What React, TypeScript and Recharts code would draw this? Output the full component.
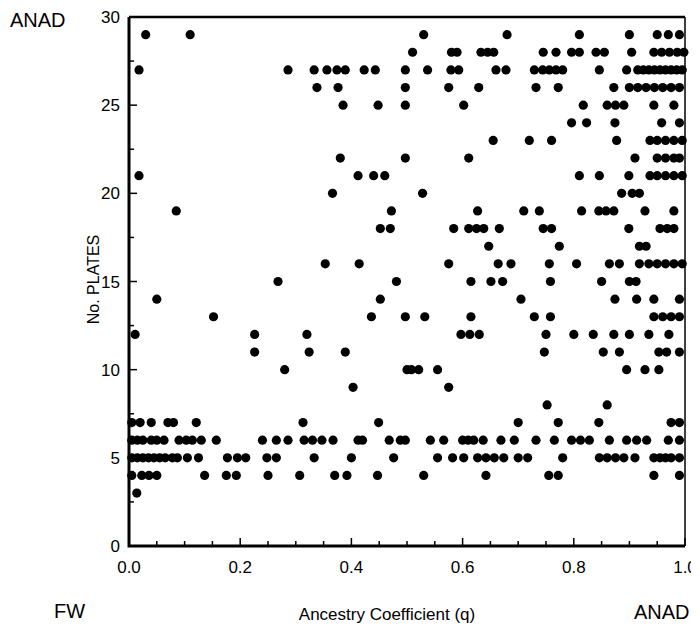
import React from 'react';
import { ScatterChart, Scatter, XAxis, YAxis } from 'recharts';

// ancestry coefficient (q) of each fish, grouped by lateral plate count
const plates29 = [0.03, 0.11, 0.53, 0.68, 0.81, 0.9, 0.95, 0.97, 0.99];
const plates28 = [0.51, 0.58, 0.59, 0.633, 0.645, 0.656, 0.745, 0.768, 0.796, 0.81, 0.84, 0.855, 0.904, 0.944, 0.958, 0.972, 0.986, 0.998];
const plates27 = [0.018, 0.286, 0.333, 0.356, 0.374, 0.389, 0.423, 0.443, 0.497, 0.537, 0.579, 0.593, 0.66, 0.678, 0.729, 0.744, 0.756, 0.768, 0.78, 0.846, 0.895, 0.915, 0.925, 0.935, 0.945, 0.955, 0.965, 0.975, 0.985, 0.995];
const plates26 = [0.338, 0.376, 0.497, 0.575, 0.629, 0.732, 0.772, 0.872, 0.9, 0.915, 0.93, 0.945, 0.96, 0.975, 0.99];
const plates25 = [0.385, 0.448, 0.497, 0.602, 0.817, 0.86, 0.875, 0.89, 0.944, 0.98];
const plates24 = [0.796, 0.823, 0.874, 0.958, 0.99];
const plates23 = [0.655, 0.72, 0.76, 0.877, 0.937, 0.95, 0.965, 0.98, 0.995];
const plates22 = [0.38, 0.497, 0.611, 0.91, 0.95, 0.965, 0.98, 0.99];
const plates21 = [0.018, 0.412, 0.44, 0.46, 0.81, 0.846, 0.899, 0.937, 0.95, 0.965, 0.98, 0.995];
const plates20 = [0.366, 0.528, 0.886, 0.905, 0.918];
const plates19 = [0.085, 0.472, 0.627, 0.71, 0.738, 0.814, 0.845, 0.858, 0.872, 0.928, 0.98];
const plates18 = [0.452, 0.47, 0.584, 0.611, 0.625, 0.638, 0.666, 0.745, 0.76, 0.899, 0.955, 0.968, 0.98];
const plates17 = [0.647, 0.774, 0.918, 0.93];
const plates16 = [0.353, 0.414, 0.575, 0.664, 0.687, 0.756, 0.805, 0.864, 0.882, 0.918, 0.935, 0.95, 0.965, 0.98, 0.995];
const plates15 = [0.268, 0.481, 0.615, 0.651, 0.672, 0.758, 0.85, 0.9, 0.912];
const plates14 = [0.05, 0.452, 0.705, 0.874, 0.913, 0.944, 0.99];
const plates13 = [0.152, 0.436, 0.497, 0.532, 0.615, 0.729, 0.758, 0.944, 0.96, 0.975, 0.99];
const plates12 = [0.011, 0.226, 0.32, 0.597, 0.613, 0.63, 0.75, 0.8, 0.835, 0.872, 0.9, 0.935, 0.971];
const plates11 = [0.226, 0.324, 0.389, 0.747, 0.853, 0.882, 0.953, 0.967, 0.99];
const plates10 = [0.28, 0.5, 0.508, 0.521, 0.555, 0.895, 0.928, 0.953];
const plates9 = [0.403, 0.575];
const plates8 = [0.752, 0.86];
const plates7 = [0.005, 0.02, 0.04, 0.07, 0.08, 0.121, 0.313, 0.449, 0.7, 0.772, 0.845, 0.975, 0.99];
const plates6 = [0.005, 0.015, 0.025, 0.04, 0.05, 0.063, 0.09, 0.103, 0.114, 0.13, 0.157, 0.24, 0.265, 0.286, 0.315, 0.33, 0.347, 0.367, 0.412, 0.42, 0.468, 0.488, 0.497, 0.542, 0.566, 0.6, 0.61, 0.62, 0.637, 0.669, 0.693, 0.732, 0.765, 0.796, 0.812, 0.828, 0.864, 0.895, 0.913, 0.931, 0.97, 0.99];
const plates5 = [0.005, 0.015, 0.025, 0.035, 0.045, 0.055, 0.065, 0.078, 0.087, 0.105, 0.125, 0.177, 0.195, 0.21, 0.248, 0.265, 0.333, 0.4, 0.476, 0.555, 0.582, 0.602, 0.627, 0.642, 0.657, 0.674, 0.7, 0.717, 0.78, 0.846, 0.86, 0.875, 0.89, 0.91, 0.944, 0.955, 0.965, 0.975, 0.99];
const plates4 = [0.005, 0.023, 0.036, 0.05, 0.136, 0.175, 0.193, 0.25, 0.307, 0.37, 0.392, 0.447, 0.53, 0.642, 0.755, 0.772, 0.944, 0.99];
const plates3 = [0.014];

const rows: [number, number[]][] = [
  [29, plates29], [28, plates28], [27, plates27], [26, plates26], [25, plates25],
  [24, plates24], [23, plates23], [22, plates22], [21, plates21], [20, plates20],
  [19, plates19], [18, plates18], [17, plates17], [16, plates16], [15, plates15],
  [14, plates14], [13, plates13], [12, plates12], [11, plates11], [10, plates10],
  [9, plates9], [8, plates8], [7, plates7], [6, plates6], [5, plates5],
  [4, plates4], [3, plates3],
];

const xTicks = [0, 0.05, 0.1, 0.15, 0.2, 0.25, 0.3, 0.35, 0.4, 0.45, 0.5, 0.55, 0.6, 0.65, 0.7, 0.75, 0.8, 0.85, 0.9, 0.95, 1];
const yTicks = [0, 2.5, 5, 7.5, 10, 12.5, 15, 17.5, 20, 22.5, 25, 27.5, 30];

// corners of the plot box, in data units
const frameLeftBottom = [{ q: 0, plates: 30 }, { q: 0, plates: 0 }, { q: 1, plates: 0 }];
const frameTop = [{ q: 0, plates: 30 }, { q: 1, plates: 30 }];
const frameRight = [{ q: 1, plates: 30 }, { q: 1, plates: 0 }];

const points = rows.flatMap(([plates, qs]) => qs.map(q => ({ q, plates })));

const FONT = '"Liberation Sans", Arial, Helvetica, sans-serif';

const XTick = (props: any) => {
  const { x, y, payload } = props;
  const v = payload.value;
  const major = Math.abs(v * 10 - Math.round(v * 10)) < 1e-6 && Math.round(v * 10) % 2 === 0;
  return (
    <g>
      <line x1={x} x2={x} y1={y} y2={y - (major ? 8 : 5)} stroke="#000" strokeWidth={1.5} />
      {major && (
        <text x={x} y={y + 27} textAnchor="middle" fontSize={17} fontFamily={FONT} fill="#000">
          {v.toFixed(1)}
        </text>
      )}
    </g>
  );
};

const YTick = (props: any) => {
  const { x, y, payload } = props;
  const v = payload.value;
  const major = v % 5 === 0;
  return (
    <g>
      <line x1={x} x2={x + (major ? 8 : 5)} y1={y} y2={y} stroke="#000" strokeWidth={1.5} />
      {major && (
        <text x={x - 9} y={y} dy="0.36em" textAnchor="end" fontSize={17} fontFamily={FONT} fill="#000">
          {v}
        </text>
      )}
    </g>
  );
};

const YLabel = (props: any) => {
  const { viewBox } = props;
  const cx = viewBox.x + 93;
  const cy = viewBox.y + viewBox.height / 2 - 2;
  return (
    <text x={cx} y={cy} transform={`rotate(-90 ${cx} ${cy})`} textAnchor="middle" dominantBaseline="central" fontSize={16} fontFamily={FONT} fill="#000">
      No. PLATES
    </text>
  );
};

const XLabel = (props: any) => {
  const { viewBox } = props;
  const cx = viewBox.x + viewBox.width / 2 - 20;
  return (
    <text x={cx} y={viewBox.y + 74} textAnchor="middle" fontSize={17} fontFamily={FONT} fill="#000">
      Ancestry Coefficient (q)
    </text>
  );
};

const Dot = (props: any) => <circle cx={props.cx} cy={props.cy} r={4.6} fill="#000" />;
const NoDot = () => <g />;

const corner: React.CSSProperties = { position: 'absolute', fontFamily: FONT, fontSize: 20, color: '#000', lineHeight: '20px' };

export default function App() {
  return (
    <div style={{ position: 'relative', width: 699, height: 631, margin: -8, background: '#fff' }}>
      <ScatterChart width={699} height={631} margin={{ top: 17, right: 14, bottom: 45, left: 0 }}>
        <XAxis
          type="number"
          dataKey="q"
          domain={[0, 1]}
          ticks={xTicks}
          interval={0}
          tickSize={0}
          tickMargin={0}
          tickLine={false}
          tick={<XTick />}
          axisLine={false}
          height={40}
          label={<XLabel />}
        />
        <YAxis
          type="number"
          dataKey="plates"
          domain={[0, 30]}
          ticks={yTicks}
          interval={0}
          tickSize={0}
          tickMargin={0}
          tickLine={false}
          tick={<YTick />}
          axisLine={false}
          width={129}
          label={<YLabel />}
        />
        <Scatter data={frameLeftBottom} line={{ stroke: '#000', strokeWidth: 3 }} lineType="joint" shape={<NoDot />} isAnimationActive={false} />
        <Scatter data={frameTop} line={{ stroke: '#000', strokeWidth: 2.5 }} lineType="joint" shape={<NoDot />} isAnimationActive={false} />
        <Scatter data={frameRight} line={{ stroke: '#000', strokeWidth: 1.5 }} lineType="joint" shape={<NoDot />} isAnimationActive={false} />
        <Scatter data={points} shape={<Dot />} isAnimationActive={false} />
      </ScatterChart>
      <div style={{ ...corner, left: 10, top: 10 }}>ANAD</div>
      <div style={{ ...corner, left: 54, top: 601 }}>FW</div>
      <div style={{ ...corner, left: 634, top: 602 }}>ANAD</div>
    </div>
  );
}
